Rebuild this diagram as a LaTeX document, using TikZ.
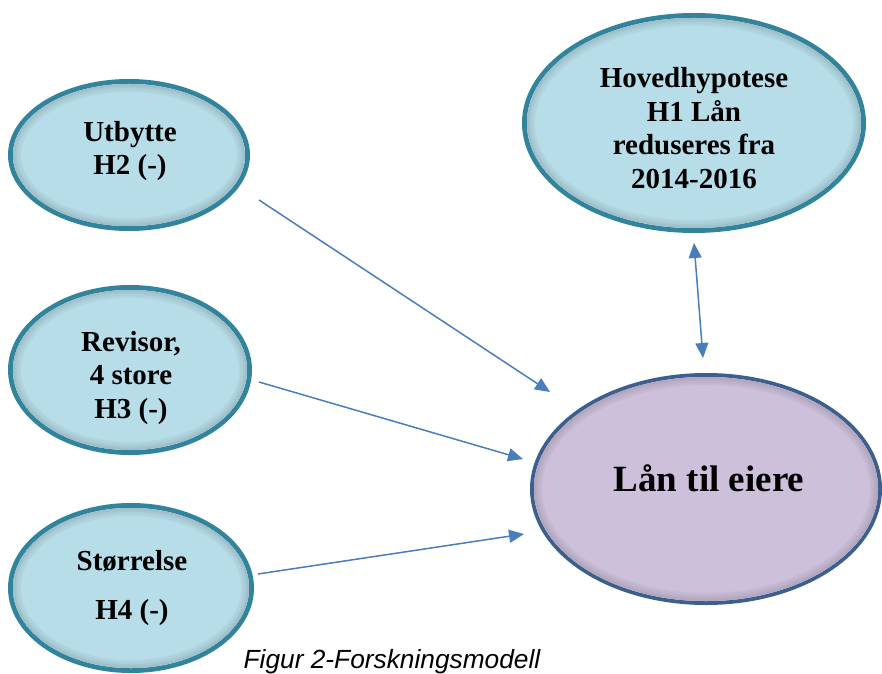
\documentclass[tikz,border=0pt]{standalone}
\usepackage{fontspec}
\setmainfont{Liberation Serif}
\setsansfont{Liberation Sans}
\usetikzlibrary{shapes.geometric,arrows.meta}
\definecolor{tealb}{HTML}{31849B}
\definecolor{fillb}{HTML}{B7DDE8}
\definecolor{fillp}{HTML}{CCC0DA}
\definecolor{bordp}{HTML}{3C5F8E}
\definecolor{arrc}{HTML}{4A7EBB}
\tikzset{
  bub/.style={ellipse, inner sep=0pt, outer sep=0pt, fill=fillb, draw=tealb, line width=5pt},
  bubp/.style={ellipse, inner sep=0pt, outer sep=0pt, fill=fillp, draw=bordp, line width=4pt},
  lbl/.style={align=center, inner sep=0pt, font=\fontsize{29}{33.5}\selectfont\bfseries},
  arr/.style={draw=arrc, line width=1.5pt, -{Triangle[length=15pt,width=13pt]}},
  darr/.style={draw=arrc, line width=1.5pt, {Triangle[length=15pt,width=13pt]}-{Triangle[length=15pt,width=13pt]}}
}
\newcommand{\innershadow}[4]{%
  \begin{scope}
    \clip (#1) ellipse [x radius=#2, y radius=#3];
    \foreach \w/\p in {16/97,13/95,10/93,7/90,4/87}
      \draw[#4!\p!black, line width=\w pt] (#1) ellipse [x radius=#2, y radius=#3];
  \end{scope}}
\begin{document}
\begin{tikzpicture}[x=1pt,y=1pt]
\useasboundingbox (0,0) rectangle (882,673);
% ellipses
\node[bub, minimum width=237pt, minimum height=147pt] (u) at (129,518) {};
\node[bub, minimum width=239pt, minimum height=165pt] (r) at (130,303) {};
\node[bub, minimum width=241pt, minimum height=165pt] (s) at (131,85) {};
\node[bub, minimum width=339pt, minimum height=215pt] (h) at (694,550) {};
\node[bubp, minimum width=348pt, minimum height=228pt] (l) at (706,184) {};
\innershadow{u.center}{116}{71}{fillb}
\innershadow{r.center}{117}{80}{fillb}
\innershadow{s.center}{118}{80}{fillb}
\innershadow{h.center}{167}{105}{fillb}
\innershadow{l.center}{172}{112}{fillp}
% texts
\node[lbl] (ut) at (130,522) {Utbytte\\H2 (-)};
\node[lbl] (rt) at (131,295) {Revisor,\\4 store\\H3 (-)};
\node[lbl] (st) at (132,85) {Størrelse\\[16pt]H4 (-)};
\node[lbl] (ht) at (694,545) {Hovedhypotese\\H1 Lån\\reduseres fra\\2014-2016};
\node[align=center, inner sep=0pt, font=\fontsize{37}{44}\selectfont\bfseries] (lt) at (709,195) {Lån til eiere};
% arrow end points
\coordinate (a1s) at (259,473);
\coordinate (a1e) at (550,281);
\coordinate (a2s) at (259,291);
\coordinate (a2e) at (523,214);
\coordinate (a3s) at (258,99);
\coordinate (a3e) at (524,139);
\coordinate (a4s) at (694,430);
\coordinate (a4e) at (703,315);
\draw[arr] (a1s) -- (a1e);
\draw[arr] (a2s) -- (a2e);
\draw[arr] (a3s) -- (a3e);
\draw[darr] (a4s) -- (a4e);
% caption
\node[anchor=base, inner sep=0pt, font=\sffamily\itshape\fontsize{26.3}{30}\selectfont] (cap) at (392,5) {Figur 2-Forskningsmodell};
\end{tikzpicture}
\end{document}
